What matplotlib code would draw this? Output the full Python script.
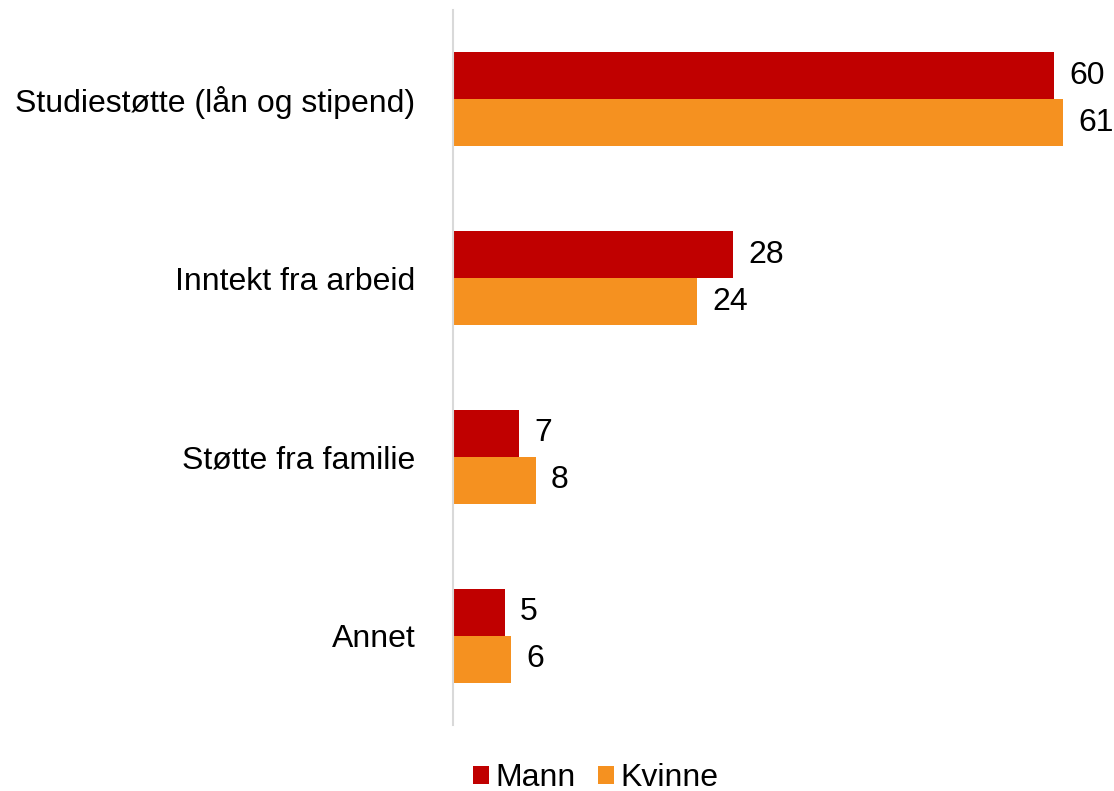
import matplotlib
matplotlib.use("Agg")
import matplotlib.pyplot as plt
import numpy as np

plt.rcParams['font.family'] = ['Liberation Sans', 'DejaVu Sans']

categories = ["Studiestøtte (lån og stipend)", "Inntekt fra arbeid", "Støtte fra familie", "Annet"]
series_names = ["Mann", "Kvinne"]
mann = [60.1, 28.0, 6.6, 5.2]
kvinne = [61.0, 24.4, 8.3, 5.8]
colors = ["#C00000", "#F59120"]

FS = 23

fig = plt.figure(figsize=(11.14, 7.91), dpi=100)
W, H = 1114, 791
ax = fig.add_axes([453 / W, 1 - 725 / H, 650 / W, 715 / H])

y = np.arange(len(categories))
h = 0.263
b1 = ax.barh(y - h / 2, mann, height=h, color=colors[0], label=series_names[0])
b2 = ax.barh(y + h / 2, kvinne, height=h, color=colors[1], label=series_names[1])

for bars, vals in ((b1, mann), (b2, kvinne)):
    for rect, v in zip(bars, vals):
        ax.annotate(f"{round(v):d}", xy=(rect.get_width(), rect.get_y() + rect.get_height() / 2),
                    xytext=(15, 0), textcoords="offset pixels", va="center", ha="left",
                    fontsize=FS, color="black")

ax.set_ylim(len(categories) - 0.5, -0.5)
ax.set_xlim(0, 65)
ax.set_yticks(y)
ax.set_yticklabels(categories, fontsize=FS)
ax.tick_params(axis='y', length=0, pad=27)
ax.set_xticks([])
for s in ("top", "right", "bottom"):
    ax.spines[s].set_visible(False)
ax.spines["left"].set_color("#D9D9D9")
ax.spines["left"].set_linewidth(1.5)

fig.legend(loc="center", bbox_to_anchor=(596 / W, 1 - 778 / H), ncol=2, frameon=False,
           fontsize=FS, handlelength=0.5, handleheight=0.5, handletextpad=0.2,
           columnspacing=0.7)

fig.savefig("out.png", dpi=100)
